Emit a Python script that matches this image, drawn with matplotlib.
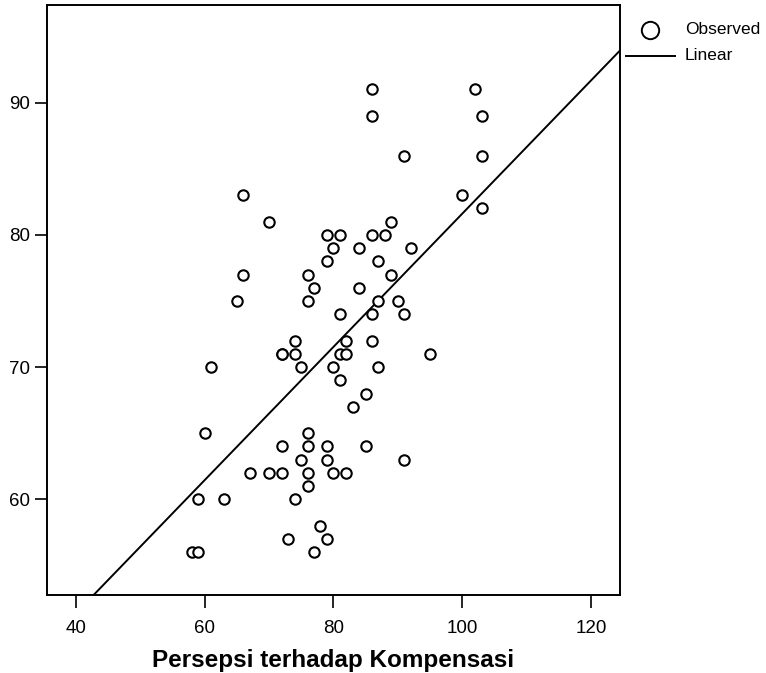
import numpy as np
import matplotlib
matplotlib.use('Agg')
import matplotlib.pyplot as plt
from matplotlib.lines import Line2D

plt.rcParams['font.family'] = ['Liberation Sans', 'DejaVu Sans']

# Observed points (x = Persepsi terhadap Kompensasi, y = outcome)
kompensasi = [86, 102, 86, 103, 91, 103, 66, 100, 103, 70, 89,
              79, 81, 86, 88, 80, 84, 92, 79, 87, 66, 76, 89,
              77, 84, 65, 76, 87, 90, 81, 86, 91, 74, 82, 86,
              72, 72, 74, 81, 82, 95, 61, 75, 80, 87, 81, 85, 83,
              60, 76, 72, 76, 79, 85, 75, 79, 91,
              67, 70, 72, 76, 80, 82, 76, 59, 63, 74,
              78, 73, 79, 58, 59, 77]
nilai_y = [91, 91, 89, 89, 86, 86, 83, 83, 82, 81, 81,
           80, 80, 80, 80, 79, 79, 79, 78, 78, 77, 77, 77,
           76, 76, 75, 75, 75, 75, 74, 74, 74, 72, 72, 72,
           71, 71, 71, 71, 71, 71, 70, 70, 70, 70, 69, 68, 67,
           65, 65, 64, 64, 64, 64, 63, 63, 63,
           62, 62, 62, 62, 62, 62, 61, 60, 60, 60,
           58, 57, 57, 56, 56, 56]

# Linear fit line
intercept = 31.2
slope = 0.504

x_ticks = [40, 60, 80, 100, 120]
y_ticks = [60, 70, 80, 90]
x_lim = (35.5, 124.45)
y_lim = (52.76, 97.39)

fig = plt.figure(figsize=(7.66, 6.73), dpi=100)
ax = fig.add_axes([0.061, 0.1159, 0.748, 0.8767])

ax.plot(kompensasi, nilai_y, linestyle='none', marker='o', markersize=7.5,
        markerfacecolor='white', markeredgecolor='black', markeredgewidth=1.5,
        clip_on=False, zorder=3)

xs = np.array(x_lim)
ax.plot(xs, intercept + slope * xs, color='black', linewidth=1.4, zorder=2)

ax.set_xlim(*x_lim)
ax.set_ylim(*y_lim)
ax.set_xticks(x_ticks)
ax.set_yticks(y_ticks)
ax.tick_params(direction='out', length=9, width=1.2, labelsize=13.5, colors='black')
ax.tick_params(axis='x', pad=9)
ax.tick_params(axis='y', pad=3)
for s in ax.spines.values():
    s.set_linewidth(1.4)

ax.set_xlabel('Persepsi terhadap Kompensasi', fontsize=17.5, fontweight='bold', labelpad=9)

# legend drawn outside the axes, top right
fig.add_artist(Line2D([650 / 766], [1 - 30 / 673], transform=fig.transFigure,
                      marker='o', markersize=12.5, markerfacecolor='white',
                      markeredgecolor='black', markeredgewidth=1.4, linestyle='none'))
fig.text(685 / 766, 1 - 30 / 673, 'Observed', fontsize=12.5, va='center', ha='left')
fig.add_artist(Line2D([626 / 766, 675 / 766], [1 - 56 / 673, 1 - 56 / 673],
                      transform=fig.transFigure, color='black', linewidth=1.4))
fig.text(685 / 766, 1 - 56 / 673, 'Linear', fontsize=12.5, va='center', ha='left')

fig.savefig('out.png', dpi=100)
